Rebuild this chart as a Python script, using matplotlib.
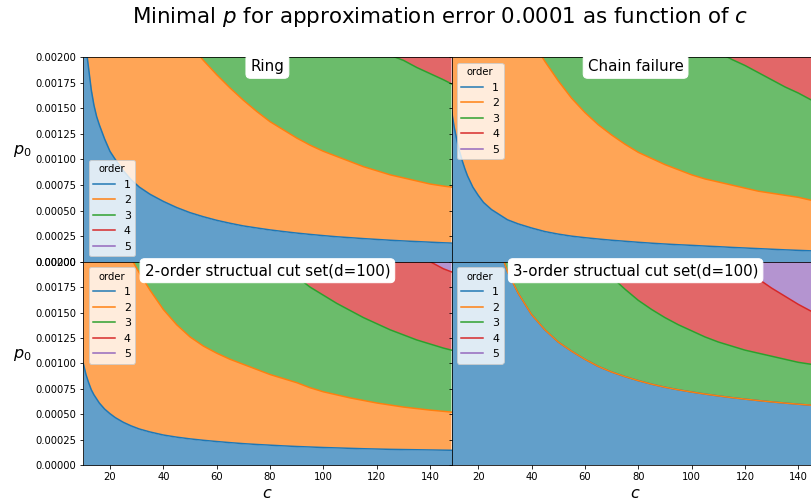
import numpy as np
import matplotlib
matplotlib.use("Agg")
import matplotlib.pyplot as plt
from matplotlib.lines import Line2D

# Network size c at which the minimal p was evaluated
c_values = [10, 11, 12, 13, 14, 15, 16, 18, 20, 22, 25, 28, 31, 35, 40, 45, 50, 55, 60,
            65, 70, 75, 80, 85, 90, 95, 100, 105, 110, 115, 120, 125, 130, 135, 140, 145, 148]

orders = ["1", "2", "3", "4", "5"]

# Upper edge of each order's band (cumulative p0); bands of higher orders fill up to the top.
ring_edge1 = [0.0024, 0.0021, 0.00189, 0.00168, 0.00153, 0.00142, 0.00134, 0.00120, 0.00108, 0.00100,
              0.00089, 0.00080, 0.00073, 0.00066, 0.00059, 0.00053, 0.00048, 0.00044, 0.000405, 0.000376,
              0.00035, 0.00033, 0.000311, 0.000295, 0.00028, 0.000267, 0.000255, 0.000244, 0.000235,
              0.000226, 0.000218, 0.00021, 0.000203, 0.000197, 0.000191, 0.000185, 0.000182]
ring_edge2 = [0.0099, 0.0087, 0.0078, 0.0069, 0.0063, 0.0058, 0.0055, 0.0049, 0.0044, 0.0041,
              0.0037, 0.0033, 0.0030, 0.0027, 0.0025, 0.0023, 0.00213, 0.00197, 0.00183, 0.0017,
              0.00158, 0.00147, 0.00137, 0.00129, 0.00121, 0.00114, 0.00108, 0.00103, 0.00098,
              0.00093, 0.00089, 0.00085, 0.00082, 0.00079, 0.00076, 0.00074, 0.00073]
ring_edge3 = [0.024, 0.021, 0.019, 0.017, 0.0155, 0.0143, 0.0134, 0.012, 0.0108, 0.0099,
              0.0088, 0.0079, 0.0072, 0.0064, 0.0057, 0.0051, 0.0046, 0.0042, 0.0039, 0.0036,
              0.0034, 0.0032, 0.0030, 0.0028, 0.0027, 0.0025, 0.0024, 0.0023, 0.0022,
              0.00213, 0.00206, 0.00202, 0.00197, 0.0019, 0.00184, 0.00178, 0.00174]

chain_edge1 = [0.00148, 0.00132, 0.00119, 0.00108, 0.00099, 0.00091, 0.00084, 0.00073, 0.00065, 0.00058,
               0.00051, 0.00046, 0.00041, 0.00037, 0.00033, 0.000295, 0.00027, 0.00025, 0.000235, 0.000222,
               0.00021, 0.0002, 0.00019, 0.000181, 0.000173, 0.000166, 0.00016, 0.000153, 0.000147,
               0.00014, 0.000134, 0.000128, 0.000122, 0.000116, 0.000111, 0.000106, 0.000103]
chain_edge2 = [0.0089, 0.0079, 0.0071, 0.0065, 0.0059, 0.0054, 0.0050, 0.0043, 0.0038, 0.0035,
               0.0031, 0.0028, 0.0026, 0.0024, 0.00217, 0.00196, 0.00177, 0.0016, 0.00146, 0.00134,
               0.00124, 0.00115, 0.00107, 0.00101, 0.00095, 0.0009, 0.00085, 0.00081, 0.00078,
               0.00075, 0.00072, 0.00069, 0.00067, 0.00065, 0.00063, 0.0006, 0.00059]
chain_edge3 = [0.023, 0.0205, 0.0185, 0.017, 0.0155, 0.014, 0.013, 0.0112, 0.0099, 0.009,
               0.008, 0.0072, 0.0065, 0.0059, 0.0052, 0.0047, 0.0043, 0.0039, 0.0036, 0.0033,
               0.0031, 0.0029, 0.0027, 0.0026, 0.0024, 0.0023, 0.0022, 0.00212, 0.00205,
               0.00198, 0.00192, 0.00185, 0.00178, 0.00171, 0.00165, 0.00158, 0.00155]

cut2_edge1 = [0.001, 0.00089, 0.00081, 0.00074, 0.00069, 0.00065, 0.00061, 0.00055, 0.000505, 0.000466,
              0.00042, 0.000384, 0.000354, 0.000325, 0.000295, 0.000274, 0.000257, 0.000243, 0.000231, 0.00022,
              0.00021, 0.000202, 0.000195, 0.000188, 0.000182, 0.000177, 0.000172, 0.000168, 0.000164,
              0.00016, 0.000157, 0.000154, 0.000152, 0.00015, 0.000148, 0.000146, 0.000145]
cut2_edge2 = [0.0058, 0.0052, 0.0047, 0.0043, 0.0040, 0.0037, 0.0035, 0.0031, 0.0028, 0.0026,
              0.0023, 0.00203, 0.00189, 0.00172, 0.00153, 0.00138, 0.00126, 0.00117, 0.0011, 0.00104,
              0.00099, 0.00094, 0.00089, 0.00085, 0.00081, 0.00076, 0.00072, 0.00069, 0.00066,
              0.000635, 0.00061, 0.00059, 0.00057, 0.000555, 0.00054, 0.000528, 0.00052]
cut2_edge3 = [0.0167, 0.0151, 0.0139, 0.0128, 0.0119, 0.0111, 0.0104, 0.0093, 0.0083, 0.0076,
              0.0067, 0.0059, 0.0054, 0.0048, 0.0042, 0.0037, 0.0033, 0.0030, 0.0028, 0.0026,
              0.0024, 0.0022, 0.00208, 0.00196, 0.00185, 0.00175, 0.00167, 0.00159, 0.00152,
              0.00145, 0.00139, 0.00133, 0.00128, 0.00123, 0.00119, 0.00115, 0.00113]
cut2_edge4 = [0.028, 0.0254, 0.0233, 0.0215, 0.020, 0.0186, 0.0175, 0.0156, 0.0139, 0.0128,
              0.0113, 0.0099, 0.0091, 0.0081, 0.0071, 0.0062, 0.0055, 0.0050, 0.0047, 0.0044,
              0.0040, 0.0037, 0.0035, 0.0033, 0.0031, 0.0029, 0.0028, 0.0027, 0.00255,
              0.00244, 0.00234, 0.00224, 0.00215, 0.00207, 0.0020, 0.00193, 0.0019]

cut3_edge1 = [0.0065, 0.0058, 0.0052, 0.0047, 0.0043, 0.0040, 0.0037, 0.0033, 0.0030, 0.0027,
              0.0024, 0.00213, 0.0019, 0.00169, 0.00148, 0.00133, 0.00121, 0.00112, 0.00104, 0.00097,
              0.000915, 0.00087, 0.00083, 0.000795, 0.000765, 0.00074, 0.000718, 0.000698, 0.00068,
              0.000663, 0.000648, 0.000634, 0.000621, 0.000609, 0.000598, 0.000588, 0.000582]
# the order-2 band has zero width here: its edge coincides with order 1
cut3_edge2 = list(cut3_edge1)
cut3_edge3 = [0.013, 0.012, 0.011, 0.010, 0.0093, 0.0087, 0.0082, 0.0073, 0.0066, 0.0060,
              0.0053, 0.0048, 0.0044, 0.0039, 0.0034, 0.0030, 0.0027, 0.0024, 0.00218, 0.00199,
              0.00185, 0.00173, 0.00162, 0.00153, 0.00145, 0.00138, 0.00132, 0.00126, 0.00121,
              0.00117, 0.00113, 0.0011, 0.00107, 0.00104, 0.00101, 0.00099, 0.00097]
cut3_edge4 = [0.0195, 0.018, 0.0165, 0.015, 0.014, 0.013, 0.0123, 0.011, 0.0099, 0.009,
              0.008, 0.0072, 0.0066, 0.0058, 0.0051, 0.0045, 0.0041, 0.0037, 0.0034, 0.0031,
              0.0029, 0.0027, 0.0026, 0.0025, 0.0024, 0.0025, 0.0024, 0.0023, 0.00218,
              0.00204, 0.00193, 0.00183, 0.00174, 0.00166, 0.00158, 0.00151, 0.00147]

panel_titles = ["Ring", "Chain failure",
                "2-order structual cut set(d=100)", "3-order structual cut set(d=100)"]
panel_edges = [
    [ring_edge1, ring_edge2, ring_edge3],
    [chain_edge1, chain_edge2, chain_edge3],
    [cut2_edge1, cut2_edge2, cut2_edge3, cut2_edge4],
    [cut3_edge1, cut3_edge2, cut3_edge3, cut3_edge4],
]
legend_locs = ["lower left", "upper left", "upper left", "upper left"]

colors = ["#1f77b4", "#ff7f0e", "#2ca02c", "#d62728", "#9467bd"]
P_MAX = 0.002

W, H = 811, 504
fig = plt.figure(figsize=(W / 72, H / 72), dpi=72)

x0_left, x0_right, ax_w = 83.3, 451.5, 368.2
rows = [(57.3, 204.4), (261.7, 203.3)]  # top, height (pixels)
rects = []
for top, h in rows:
    for x0 in (x0_left, x0_right):
        rects.append([x0 / W, 1 - (top + h) / H, ax_w / W, h / H])

c = np.array(c_values, dtype=float)
for i, (rect, title, edges, loc) in enumerate(zip(rects, panel_titles, panel_edges, legend_locs)):
    ax = fig.add_axes(rect)
    lower = np.zeros_like(c)
    for k in range(5):
        if k < len(edges):
            upper = np.array(edges[k], dtype=float)
        else:
            upper = np.full_like(c, 1.0)
        ax.fill_between(c, lower, upper, color=colors[k], alpha=0.7, lw=0)
        lower = upper
    for k, e in enumerate(edges):
        ax.plot(c, e, color=colors[k], lw=1.5)
    ax.set_xlim(10, 148)
    ax.set_ylim(0, P_MAX)
    ax.set_yticks(np.arange(0, 0.00201, 0.00025))
    ax.tick_params(labelsize=10)
    if i % 2 == 1:
        ax.tick_params(labelleft=False)
    else:
        ax.set_ylabel("$p_0$", rotation=0, fontsize=16, labelpad=13)
    if i < 2:
        ax.tick_params(labelbottom=False)
    else:
        ax.set_xlabel("$c$", fontsize=16)
    handles = [Line2D([], [], color=col, lw=1.5) for col in colors]
    ax.legend(handles, orders, title="order", loc=loc, fontsize=11, title_fontsize=10)
    ax.annotate(title, xy=(0.5, 1.0), xycoords="axes fraction", xytext=(0, -9),
                textcoords="offset points", ha="center", va="center", fontsize=15,
                bbox=dict(boxstyle="round", fc="white", ec="white"), zorder=5)

fig.text(440.5 / W, 1 - 17 / H, "Minimal $p$ for approximation error 0.0001 as function of $c$",
         ha="center", va="center", fontsize=21.4)

fig.savefig("out.png", dpi=72)
